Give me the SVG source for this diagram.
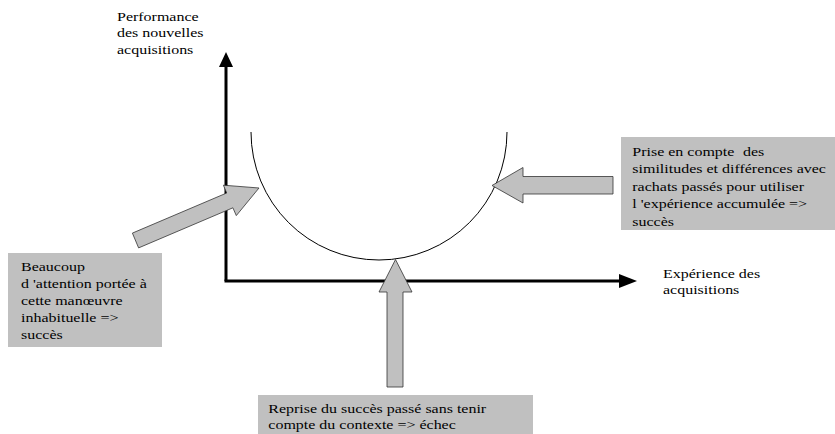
<svg xmlns="http://www.w3.org/2000/svg" width="835" height="434" viewBox="0 0 835 434">
<style>
  .box { fill: #c0c0c0; stroke: none; }
  .blk { fill: #c0c0c0; stroke: #333; stroke-width: 0.8; stroke-linejoin: miter; }
  .axis { stroke: #000; stroke-width: 3; fill: none; }
  .curve { stroke: #000; stroke-width: 1; fill: none; }
</style>
<rect width="835" height="434" fill="#fff"/>
<g id="axes">
  <line class="axis" x1="226" y1="281" x2="226" y2="64"/>
  <polygon points="226,52 219,67 233,67" fill="#000"/>
  <line class="axis" x1="224.5" y1="281" x2="622" y2="281"/>
  <polygon points="637,281 619,274 619,288" fill="#000"/>
</g>
<g id="curve">
  <path class="curve" d="M251,132 A128,128 0 0 0 507,132"/>
</g>
<g id="label-y" font-family="Liberation Serif" font-size="13">
  <text transform="matrix(1.23 0 0 1 117 20.7)">Performance</text>
  <text transform="matrix(1.23 0 0 1 117 37.4)">des nouvelles</text>
  <text transform="matrix(1.23 0 0 1 117 54.1)">acquisitions</text>
</g>
<g id="label-x" font-family="Liberation Serif" font-size="13">
  <text transform="matrix(1.23 0 0 1 663 278.3)">Expérience des</text>
  <text transform="matrix(1.23 0 0 1 663 294.3)">acquisitions</text>
</g>
<g id="connectors">
  <polygon class="blk" points="132.4,233.1 226.7,193 223.4,185.2 259,188 236.3,215.6 232.9,207.8 138.6,247.9"/>
  <polygon class="blk" points="613,176.5 523,176.5 523,167.5 492,185.5 523,203 523,194 613,194"/>
  <polygon class="blk" points="387,387 387,292 379,292 395.5,259.5 412,292 403,292 403,387"/>
</g>
<g id="box-left" font-family="Liberation Serif" font-size="13">
  <rect class="box" x="8" y="253" width="154" height="94"/>
  <text transform="matrix(1.23 0 0 1 21 271)">Beaucoup</text>
  <text transform="matrix(1.23 0 0 1 21 288)">d 'attention portée à</text>
  <text transform="matrix(1.23 0 0 1 21 305)">cette manœuvre</text>
  <text transform="matrix(1.23 0 0 1 21 322)">inhabituelle =&gt;</text>
  <text transform="matrix(1.23 0 0 1 21 339)">succès</text>
</g>
<g id="box-right" font-family="Liberation Serif" font-size="13">
  <rect class="box" x="621" y="137" width="214" height="93"/>
  <text transform="matrix(1.23 0 0 1 632.3 155.7)">Prise en compte<tspan dx="7">des</tspan></text>
  <text transform="matrix(1.23 0 0 1 632.3 173.2)">similitudes et différences avec</text>
  <text transform="matrix(1.23 0 0 1 632.3 190.7)">rachats passés pour utiliser</text>
  <text transform="matrix(1.23 0 0 1 632.3 208.2)">l 'expérience accumulée =&gt;</text>
  <text transform="matrix(1.23 0 0 1 632.3 225.7)">succès</text>
</g>
<g id="box-bottom" font-family="Liberation Serif" font-size="13">
  <rect class="box" x="258" y="395" width="275" height="39"/>
  <text transform="matrix(1.23 0 0 1 268.3 413.3)">Reprise du succès passé sans tenir</text>
  <text transform="matrix(1.23 0 0 1 268.3 429.3)">compte du contexte =&gt; échec</text>
</g>
</svg>
